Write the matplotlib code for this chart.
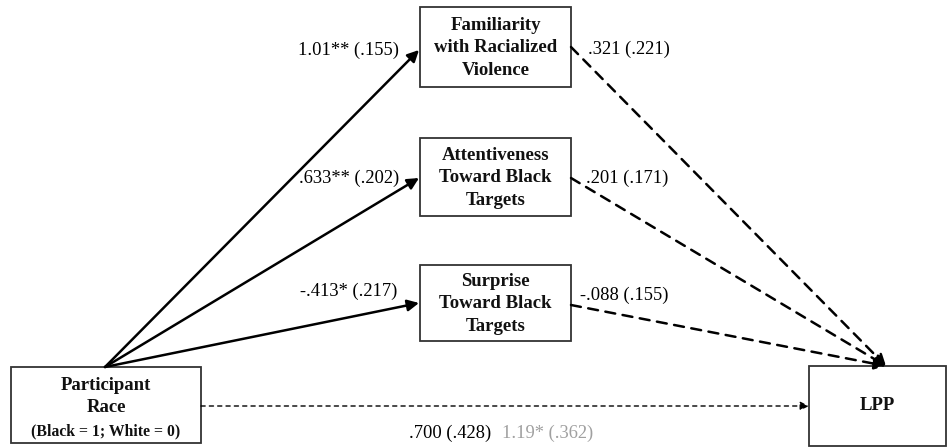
import matplotlib.pyplot as plt
from matplotlib.patches import Rectangle, FancyArrowPatch

plt.rcParams['font.family'] = ['Liberation Serif', 'DejaVu Serif']

# path model values
mediators = ['Familiarity\nwith Racialized\nViolence',
             'Attentiveness\nToward Black\nTargets',
             'Surprise\nToward Black\nTargets']
a_coef = ['1.01**', '.633**', '-.413*']
a_se = ['.155', '.202', '.217']
b_coef = ['.321', '.201', '-.088']
b_se = ['.221', '.171', '.155']
direct = '.700 (.428)'
total = '1.19* (.362)'

fig = plt.figure(figsize=(9.48, 4.48), dpi=100)
ax = fig.add_axes([0, 0, 1, 1])
ax.set_xlim(0, 948)
ax.set_ylim(448, 0)
ax.axis('off')

def box(x0, y0, x1, y1):
    ax.add_patch(Rectangle((x0, y0), x1 - x0, y1 - y0, fill=False,
                           edgecolor='#333333', lw=1.3))

# mediator boxes
med_y = [(7, 87), (138, 216), (265, 341)]
for (y0, y1), name in zip(med_y, mediators):
    box(420, y0, 571, y1)
    ax.text(495.5, (y0 + y1) / 2 + 1, name, ha='center', va='center',
            fontsize=13.5, fontweight='bold', linespacing=1.4, color='#111111')

# X and Y boxes
box(11, 367, 201, 443)
ax.text(106, 385, 'Participant', ha='center', va='center', fontsize=13.5,
        fontweight='bold', color='#111111')
ax.text(106, 408, 'Race', ha='center', va='center', fontsize=13.5,
        fontweight='bold', color='#111111')
ax.text(106, 431, '(Black = 1; White = 0)', ha='center', va='center',
        fontsize=11.3, fontweight='bold', color='#111111')
box(809, 366, 946, 446)
ax.text(877, 406, 'LPP', ha='center', va='center', fontsize=13.5,
        fontweight='bold', color='#111111')

# a paths
tips = [50, 178, 303]
label_y = [50, 178, 291]
for ty, ly, c, s in zip(tips, label_y, a_coef, a_se):
    ax.add_patch(FancyArrowPatch((105, 367), (419, ty), arrowstyle='-|>',
                                 mutation_scale=17, lw=1.8, color='black',
                                 shrinkA=0, shrinkB=0))
    ax.text(349, ly, f'{c} ({s})', ha='center', va='center', fontsize=13.3)

# b paths
starts = [47, 178, 305]
for sy in starts:
    ax.add_patch(FancyArrowPatch((571, sy), (886, 366), arrowstyle='-|>',
                                 mutation_scale=17, lw=1.8, color='black',
                                 linestyle=(0, (4, 3)), shrinkA=0, shrinkB=0))
for x, sy, c, s in zip([588, 586, 580], [49, 178, 295], b_coef, b_se):
    ax.text(x, sy, f'{c} ({s})', ha='left', va='center', fontsize=13.3)

# c path
ax.add_patch(FancyArrowPatch((201, 406), (809, 406), arrowstyle='-|>',
                             mutation_scale=13, lw=1.0, color='black',
                             linestyle=(0, (3, 3)), shrinkA=0, shrinkB=0))
ax.text(409, 433, direct, ha='left', va='center', fontsize=13.3)
ax.text(502, 433, total, ha='left', va='center', fontsize=13.3, color='#a0a0a0')

fig.savefig('out.png', dpi=100)
